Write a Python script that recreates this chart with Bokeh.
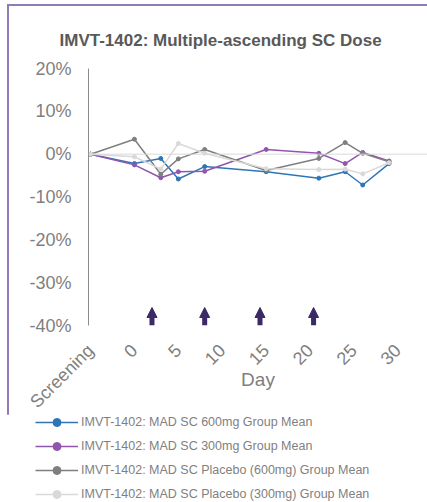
import math
from bokeh.plotting import figure
from bokeh.layouts import column
from bokeh.models import (Range1d, FixedTicker, Span, Legend, LegendItem,
                          Arrow, NormalHead, ColumnDataSource)
from bokeh.embed import file_html
from bokeh.resources import INLINE

# ---- data ----
days = [-5, 0, 3, 5, 8, 15, 21, 24, 26, 29]
mad_600 = [0, -2.2, -1.0, -5.8, -2.9, -4.1, -5.6, -4.1, -7.2, -2.2]
mad_300 = [0, -2.5, -5.5, -4.1, -4.0, 1.1, 0.2, -2.2, 0.4, -1.6]
placebo_600 = [0, 3.5, -4.7, -1.1, 1.1, -3.8, -1.0, 2.7, 0.2, -1.8]
placebo_300 = [0, -0.6, -3.5, 2.5, 0.2, -3.4, -3.6, -3.5, -4.6, -2.0]

series_names = [
    "IMVT-1402: MAD SC 600mg Group Mean",
    "IMVT-1402: MAD SC 300mg Group Mean",
    "IMVT-1402: MAD SC Placebo (600mg) Group Mean",
    "IMVT-1402: MAD SC Placebo (300mg) Group Mean",
]
series_values = [mad_600, mad_300, placebo_600, placebo_300]
series_colors = ["#2e75b6", "#9155ad", "#7f7f7f", "#d9d9d9"]

x_ticks = [-5, 0, 5, 10, 15, 20, 25, 30]
x_tick_labels = ["Screening", "0", "5", "10", "15", "20", "25", "30"]
y_ticks = [-40, -30, -20, -10, 0, 10, 20]
y_tick_labels = ["-40%", "-30%", "-20%", "-10%", "0%", "10%", "20%"]

dose_days = [2, 8, 14.3, 20.4]
arrow_base = [-40, -40, -40, -40]
arrow_tip = [-35.8, -35.8, -35.8, -35.8]

title_text = "IMVT-1402: Multiple-ascending SC Dose"
x_title = "Day"

FONT = "Liberation Sans"
GRAY = "#7f7f7f"
BORDER = "2px solid #8e7cb8"

# ---- main chart ----
p = figure(width=418, height=408,
           x_range=Range1d(-5.23, 33.375), y_range=Range1d(-40, 20),
           output_backend="svg", toolbar_location=None,
           min_border_left=79, min_border_right=0,
           min_border_top=62, min_border_bottom=89)
p.outline_line_color = None
p.xgrid.visible = False
p.ygrid.visible = False
p.background_fill_color = "white"
p.border_fill_color = "white"

p.title.text = title_text
p.title.align = "left"
p.title.offset = -29
p.title.standoff = 38
p.title.text_font = FONT
p.title.text_font_size = "17px"
p.title.text_font_style = "bold"
p.title.text_color = "#595959"

p.add_layout(Span(location=0, dimension="width", line_color="#d9d9d9", line_width=1))

sources = []
for vals, col in zip(series_values, series_colors):
    src = ColumnDataSource(dict(x=days, y=vals))
    sources.append(src)
    p.line("x", "y", source=src, line_color=col, line_width=1.5)
    p.scatter("x", "y", source=src, size=4, fill_color=col, line_color=col)

asrc = ColumnDataSource(dict(x=dose_days, y0=arrow_base, y1=arrow_tip))
arrow_col = "#3b2a66"
p.add_layout(Arrow(end=NormalHead(size=10, fill_color=arrow_col, line_color=arrow_col),
                   x_start="x", y_start="y0", x_end="x", y_end="y1", source=asrc,
                   line_color=arrow_col, line_width=5))

p.yaxis.ticker = FixedTicker(ticks=y_ticks)
p.yaxis.major_label_overrides = dict(zip(y_ticks, y_tick_labels))
p.yaxis.axis_line_color = "#8c8c8c"
p.yaxis.major_tick_line_color = None
p.yaxis.minor_tick_line_color = None
p.yaxis.major_tick_out = 0
p.yaxis.major_tick_in = 0
p.yaxis.major_label_standoff = 17
p.yaxis.major_label_text_font = FONT
p.yaxis.major_label_text_font_size = "18px"
p.yaxis.major_label_text_color = GRAY

p.xaxis.ticker = FixedTicker(ticks=x_ticks)
p.xaxis.major_label_overrides = dict(zip(x_ticks, x_tick_labels))
p.xaxis.axis_line_color = None
p.xaxis.major_tick_line_color = None
p.xaxis.minor_tick_line_color = None
p.xaxis.major_tick_out = 0
p.xaxis.major_tick_in = 0
p.xaxis.major_label_standoff = 22
p.xaxis.major_label_orientation = math.pi / 4
p.xaxis.major_label_text_font = FONT
p.xaxis.major_label_text_font_size = "18px"
p.xaxis.major_label_text_color = GRAY
p.xaxis.axis_label = x_title
p.xaxis.axis_label_standoff = -53
p.xaxis.axis_label_text_font = FONT
p.xaxis.axis_label_text_font_size = "19px"
p.xaxis.axis_label_text_font_style = "normal"
p.xaxis.axis_label_text_color = GRAY

# ---- legend strip (series shown only as legend keys; data lie outside its ranges) ----
lg = figure(width=471, height=88, x_range=Range1d(100, 101), y_range=Range1d(100, 101),
            output_backend="svg", toolbar_location=None,
            x_axis_location=None, y_axis_location=None,
            min_border=0, min_border_left=79, min_border_right=0,
            styles={"margin-left": "-53px"})
lg.outline_line_color = None
lg.xgrid.visible = False
lg.ygrid.visible = False
lg.border_fill_color = "white"
lg.background_fill_color = "white"

items = []
for name, col, src in zip(series_names, series_colors, sources):
    lr = lg.line("x", "y", source=src, line_color=col, line_width=1.5)
    sr = lg.scatter("x", "y", source=src, size=3, fill_color=col, line_color=col)
    items.append(LegendItem(label=name, renderers=[lr, sr]))

legend = Legend(items=items, location=(0, -2), orientation="vertical",
                glyph_width=43, glyph_height=20, label_height=20, spacing=4,
                padding=0, margin=0, label_standoff=3,
                border_line_color=None, background_fill_alpha=0,
                label_text_font=FONT, label_text_font_size="12.5px",
                label_text_color=GRAY)
lg.add_layout(legend)

layout = column(p, lg, spacing=0,
                styles={"border-left": BORDER, "border-top": BORDER,
                        "margin-left": "7px", "margin-top": "4px"})

open("out.html", "w").write(file_html(layout, INLINE))
